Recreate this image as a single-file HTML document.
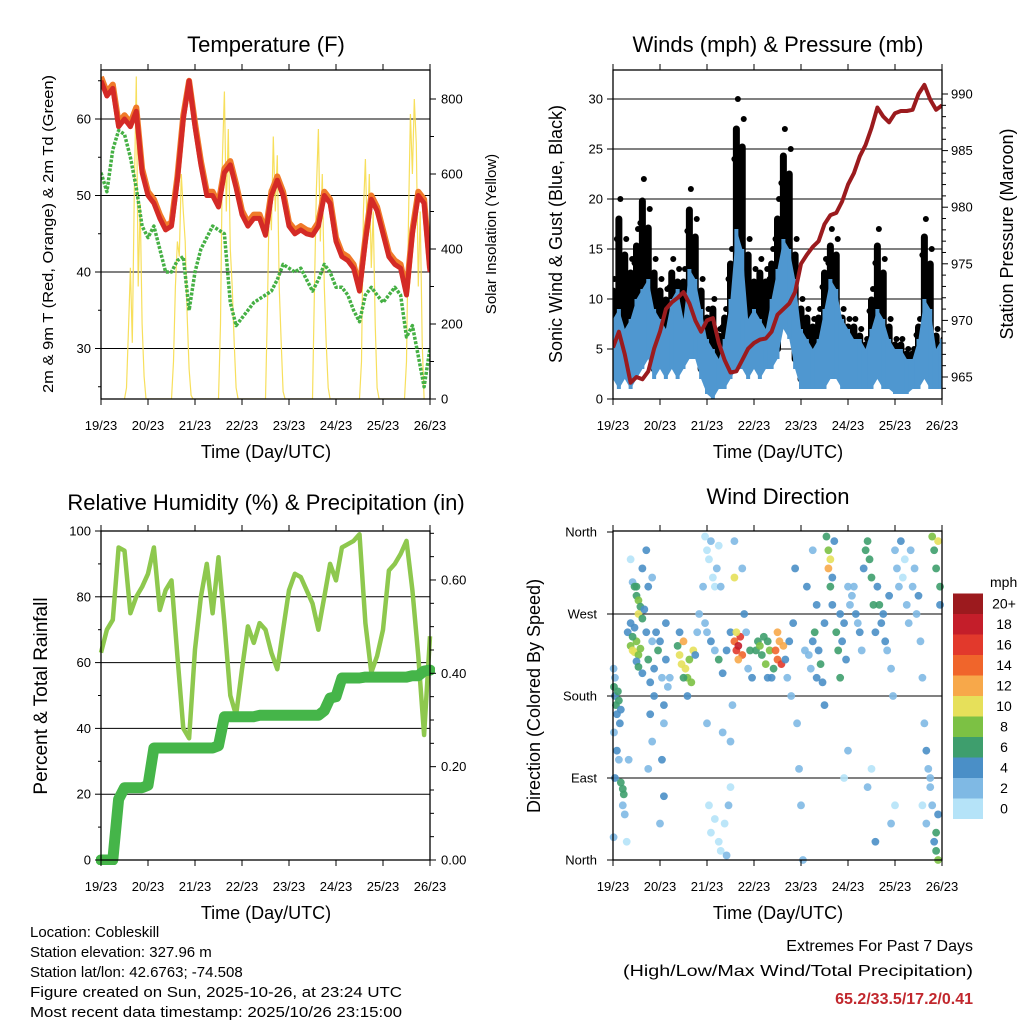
<!DOCTYPE html>
<html><head><meta charset="utf-8"><title>Cobleskill station 7-day summary</title>
<style>
html,body{margin:0;padding:0;background:#fff;}
svg{display:block;font-family:"Liberation Sans",Arial,sans-serif;}
</style></head>
<body>
<svg id="fig" width="1024" height="1024" viewBox="0 0 1024 1024" xmlns="http://www.w3.org/2000/svg">
<text x="266" y="52" font-size="22" text-anchor="middle">Temperature (F)</text>
<text x="778" y="52" font-size="22" text-anchor="middle">Winds (mph) &amp; Pressure (mb)</text>
<text x="266" y="510" font-size="22" text-anchor="middle">Relative Humidity (%) &amp; Precipitation (in)</text>
<text x="778" y="504" font-size="22" text-anchor="middle">Wind Direction</text>

<text x="266" y="458" font-size="18" text-anchor="middle">Time (Day/UTC)</text>
<text x="778" y="458" font-size="18" text-anchor="middle">Time (Day/UTC)</text>
<text x="266" y="919" font-size="18" text-anchor="middle">Time (Day/UTC)</text>
<text x="778" y="919" font-size="18" text-anchor="middle">Time (Day/UTC)</text>

<text transform="translate(53,234) rotate(-90)" font-size="15" text-anchor="middle" textLength="318" lengthAdjust="spacingAndGlyphs">2m &amp; 9m T (Red, Orange) &amp; 2m Td (Green)</text>
<text transform="translate(496,234) rotate(-90)" font-size="15" text-anchor="middle">Solar Insolation (Yellow)</text>
<text transform="translate(562,234) rotate(-90)" font-size="18" text-anchor="middle">Sonic Wind &amp; Gust (Blue, Black)</text>
<text transform="translate(1013,234) rotate(-90)" font-size="18" text-anchor="middle">Station Pressure (Maroon)</text>
<text transform="translate(47,696) rotate(-90)" font-size="19" text-anchor="middle">Percent &amp; Total Rainfall</text>
<text transform="translate(540,696) rotate(-90)" font-size="18" text-anchor="middle">Direction (Colored By Speed)</text>

<g font-size="15">
<text x="30" y="937">Location: Cobleskill</text>
<text x="30" y="957">Station elevation: 327.96 m</text>
<text x="30" y="977">Station lat/lon: 42.6763; -74.508</text>
<text x="30" y="997" textLength="372" lengthAdjust="spacingAndGlyphs">Figure created on Sun, 2025-10-26, at 23:24 UTC</text>
<text x="30" y="1017" textLength="372" lengthAdjust="spacingAndGlyphs">Most recent data timestamp: 2025/10/26 23:15:00</text>
</g>
<text x="973" y="951" font-size="16" text-anchor="end">Extremes For Past 7 Days</text>
<text x="973" y="976" font-size="16" text-anchor="end" textLength="350" lengthAdjust="spacingAndGlyphs">(High/Low/Max Wind/Total Precipitation)</text>
<text x="973" y="1004" font-size="16" font-weight="bold" fill="#c1272d" text-anchor="end">65.2/33.5/17.2/0.41</text>
</svg>
<script>
// ---------- data (3-hourly, hour 0 = 19/23 UTC) ----------
const dayLabels = ["19/23","20/23","21/23","22/23","23/23","24/23","25/23","26/23"];
const tempRed = [65,63,64,59,60,59,61,53,50,49,47,45.5,46,52,60,65,59,54,50,50,48.5,53,54,51,47.5,46,47,47,44.8,50,52,50,46,45,45.5,45,44.8,46,50,49,44,42,41.5,40.5,37.5,44,49.5,48,45,42,41,40.5,37,45,50,49,40];
const tempOrange = [65.5,63.5,64.5,59.5,60.5,59.5,61.5,53.5,50.5,49.5,47.5,46,46.5,52.5,60.5,65,59.5,54.5,50.5,50.5,49,53.5,54.5,51.5,48,46.5,47.5,47.5,45.3,50.5,52.5,50.5,46.5,45.5,46,45.5,45.3,46.5,50.5,49.5,44.5,42.5,42,41,38,44.5,50,48.5,45.5,42.5,41.5,41,37.5,45.5,50.5,49.5,40.5];
const dewGreen = [53,50.5,56,58.5,58,55,51,46,44.5,46,43,40,40,41.5,42,35,40,43,44.5,46,45.5,45,36,33,34,35,36,36.5,37,37.5,39,41,40.5,40,40.5,39,37.5,39,41,40,38,38,37,35,33.5,37,38,37,36,37,38,37,31.5,33,29,25,30];
const solarHours = [12,13,14,15,16,17,18,19,20,21,22,23, 36,37,38,39,40,41,42,43,44,45,46,47, 60,61,62,63,64,65,66,67,68,69,70, 84,85,86,87,88,89,90,91,92,93,94, 108,109,110,111,112,113,114,115,116,117, 132,133,134,135,136,137,138,139,140,141,142, 155,156,157,158,159,160,161,162,163,164,165];
const solarVals = [0,30,180,350,150,550,860,300,520,200,60,0, 0,100,300,420,380,600,500,420,220,80,10,0, 0,200,640,820,500,720,400,300,150,30,0, 0,250,560,450,700,500,650,300,150,20,0, 0,300,560,720,420,600,300,150,30,0, 0,100,500,640,420,600,350,500,200,30,0, 0,100,480,760,600,800,680,300,500,150,0];
const windHi = [8,9,7,8,10,11,12,9,8,7,10,11,8,13,12,9,6,5,4,6,10,17,15,8,9,8,7,10,13,16,15,12,7,6,5,6,9,12,11,8,7,6,6,5,7,9,8,6,5,5,4,4,6,10,9,5,6];
const windLo = [2,1,2,1,2,3,4,2,3,2,3,2,3,4,4,2,0.5,0,1,1,2,3,3,2,3,2,3,3,4,7,6,3,1,1,1,1,1,2,2,1,1,1,1,1,1,2,1,1,0.5,0.5,0.5,1,1,2,1,1,1];
const gustHi = [12,20,16,14,17,22,19,14,12,11,14,13,13,21,18,12,9,10,7,9,15,30,28,16,13,14,13,15,20,27,25,16,10,9,8,9,14,17,16,9,8,8,7,6,11,17,14,8,6,6,5,5,8,18,15,7,6];
const pressure = [967.6,969,967,964.5,965,964.8,965.5,967.5,969,971,971.6,972,972.5,971.5,970,969,970,970.2,968,966.5,965.4,965.5,966.5,967.5,968,968.3,968.4,969,970.5,971,971.5,972.5,975,975.8,976.5,977,978.5,979.3,979.5,980.5,982,983,984.5,985.5,987,988.8,988,987.5,988.3,988.5,988.5,988.6,990,990.8,989.5,988.6,989];
const rhVals = [63,70,73,95,94,75,80,83,87,95,76,82,85,62,40,37,64,80,90,75,92,72,50,44,58,71,66,72,70,63,58,70,82,87,86,82,78,70,80,90,85,95,96,97,99,72,57,62,70,88,90,93,97,82,62,38,68];
const precipVals = [0,0,0,0.13,0.155,0.155,0.155,0.155,0.16,0.24,0.24,0.24,0.24,0.24,0.24,0.24,0.24,0.24,0.24,0.24,0.245,0.307,0.307,0.307,0.307,0.307,0.307,0.31,0.31,0.31,0.31,0.31,0.31,0.31,0.31,0.31,0.31,0.31,0.32,0.347,0.35,0.39,0.39,0.39,0.39,0.392,0.392,0.392,0.392,0.392,0.392,0.392,0.392,0.395,0.395,0.405,0.407];
const dirHours = [0.5,1,1.5,2,2.5,3,3.5,4,1,0.3,0.5,2,3,1,4,5,5.5,5,6,7,8,0.3,7.5,
 9,10,11,12,13,10,14,12,11,9,13,15,
 9,10,11,12,13,14,12,13,15,15,17,16,17,18,19,20,21,19,20,18,21,18,20,22,23,
 24,25,26,27,28,25,26,27,29,26,24,
 33,34,35,36,37,38,39,40,41,42,34,36,38,43,44,46,
 47,48,49,50,51,52,53,54,55,47,48,50,52,54,56,58,60,49,50,52,54,55,57,59,60,58,48,56,60,61,62,
 62,63,64,65,66,64,63,62,67,68,70,71,69,66,
 73,74,75,76,77,78,79,80,83,84,85,86,87,84,82,81,79,
 88,89,90,91,92,93,94,95,96,97,98,100,101,102,103,104,105,106,99,102,104,107,108,108,
 109,110,110,111,111,112,113,112,114,115,116,117,116,118,119,120,121,120,118,
 122,123,124,125,126,127,128,129,130,131,132,133,134,135,136,137,138,139,140,141,142,143,134,130,132,142,144,
 144,145,146,147,148,149,150,151,152,153,154,155,156,157,158,159,160,161,162,163,164,165,166,165,166,163,164,165,166,167,167,162,160,158];
const dirDeg = [190,180,170,160,185,175,150,165,200,210,140,120,110,90,85,78,72,60,50,20,110,25,250,
 235,230,228,240,225,245,232,218,255,260,212,205,
 330,305,300,290,285,278,300,270,265,320,340,275,250,220,195,240,210,160,130,100,180,300,310,250,230,
 240,200,170,220,190,110,150,260,200,70,40,
 235,225,215,240,210,200,220,195,230,225,250,200,180,250,270,300,
 355,340,330,350,310,300,320,345,300,260,250,240,230,220,205,230,250,60,30,45,20,10,40,60,80,5,150,140,130,170,350,
 240,230,235,245,225,220,250,310,270,250,230,200,210,320,
 230,240,235,225,245,215,240,230,230,220,240,215,235,250,210,200,200,
 220,200,240,180,260,320,150,100,60,0,230,225,210,240,250,200,230,215,300,340,280,195,170,260,
 355,340,320,330,300,280,350,310,250,230,270,240,200,260,220,300,280,120,90,
 290,300,270,260,250,230,320,340,350,330,310,280,250,300,280,260,270,240,230,290,210,180,20,80,100,40,60,
 340,320,300,350,310,330,280,260,340,300,320,270,290,240,200,150,120,100,80,60,20,10,0,30,50,355,340,320,350,300,280,90,40,60];
const dirSpeed = [6,5,6,4,7,6,4,5,3,2,2,4,2,4,6,6,6,3,2,1,2,3,4,
 8,10,10,9,9,6,8,5,4,4,6,4,
 1,2,6,7,8,7,7,10,6,5,4,4,4,6,4,3,4,4,3,2,4,4,3,5,6,
 4,3,5,4,3,4,3,4,2,4,2,
 6,11,11,12,10,9,9,8,10,4,4,6,5,3,2,2,
 0,1,1,2,0,1,2,1,2,2,3,4,3,6,4,4,4,0,1,1,0,1,1,2,1,2,2,2,2,3,3,
 14,16,18,17,14,12,11,10,4,3,6,4,2,2,
 6,7,8,7,6,8,7,9,14,15,13,17,12,12,6,4,5,
 4,3,4,3,4,4,3,2,2,3,2,3,2,4,6,4,5,6,4,3,4,4,4,5,
 6,8,12,10,6,4,4,4,6,7,5,4,6,4,4,3,3,2,1,
 3,2,4,3,4,2,4,6,7,7,6,7,5,5,6,4,5,4,3,4,3,2,5,2,1,2,1,
 3,2,2,4,1,1,2,3,2,2,3,2,4,2,2,2,4,3,3,3,5,7,8,6,4,8,6,7,10,6,4,2,3,1];
const speedColors = ["#b5e3f8","#7fb9e4","#4a8fc7","#3e9e6d","#7cc144","#e6e05a","#f7a84a","#f0652b","#e2392c","#c41e2a","#9c1a1e"];
const speedLabels = ["0","2","4","6","8","10","12","14","16","18","20+"];
const dirLabels = ["North","East","South","West","North"];

// ---------- helpers ----------
const NS = "http://www.w3.org/2000/svg";
const svg = document.getElementById("fig");
function mk(tag, attrs, parent) {
  const e = document.createElementNS(NS, tag);
  for (const k in attrs) e.setAttribute(k, attrs[k]);
  (parent || svg).appendChild(e);
  return e;
}
const H_STEP = 3;
function hourAt(i) { return i * H_STEP; }
function makeX(x0) { return h => x0 + h * 329 / 168; }

function drawGrid(x0, name, leftY, grid) {
  const g = mk("g", {});
  
  
  grid.forEach(v => {
    const l = mk("line", {x1: x0, x2: x0 + 329, y1: leftY(v), y2: leftY(v), stroke: "#000", "stroke-width": 1}, g);
    
    
  });
}
function drawFrame(x0, y0, name, leftTicks, leftY, leftFmt, rightTicks, rightY, rightFmt, minorL, minorR, rightX) {
  const g = mk("g", {});
  
  
  const x = makeX(x0);
  const r = mk("rect", {x: x0, y: y0, width: 329, height: 329, fill: "none", stroke: "#000", "stroke-width": 1.3}, g);
  
  
  dayLabels.forEach((lab, i) => {
    const xx = x(i * 24);
    mk("line", {x1: xx, x2: xx, y1: y0 + 329, y2: y0 + 335, stroke: "#000", "stroke-width": 1}, g);
    mk("line", {x1: xx, x2: xx, y1: y0, y2: y0 - 6, stroke: "#000", "stroke-width": 1}, g);
    const t = mk("text", {x: xx, y: y0 + 360, "font-size": 13, "text-anchor": "middle"}, g);
    
    
    t.textContent = lab;
  });
  leftTicks.forEach(v => {
    const yy = leftY(v);
    mk("line", {x1: x0 - 6, x2: x0, y1: yy, y2: yy, stroke: "#000", "stroke-width": 1}, g);
    const t = mk("text", {x: x0 - 10, y: yy + 4.5, "font-size": 13, "text-anchor": "end"}, g);
    
    
    t.textContent = leftFmt(v);
  });
  (minorL || []).forEach(v => {
    const yy = leftY(v);
    mk("line", {x1: x0 - 3, x2: x0, y1: yy, y2: yy, stroke: "#000", "stroke-width": 1}, g);
  });
  (rightTicks || []).forEach(v => {
    const yy = rightY(v);
    mk("line", {x1: x0 + 329, x2: x0 + 335, y1: yy, y2: yy, stroke: "#000", "stroke-width": 1}, g);
    const t = mk("text", {x: rightX || (x0 + 343), y: yy + 4.5, "font-size": 13, "text-anchor": "start"}, g);
    
    
    t.textContent = rightFmt(v);
  });
  (minorR || []).forEach(v => {
    const yy = rightY(v);
    mk("line", {x1: x0 + 329, x2: x0 + 333, y1: yy, y2: yy, stroke: "#000", "stroke-width": 1}, g);
  });
}
function pathFrom(vals, x, y) {
  return vals.map((v, i) => (i ? "L" : "M") + x(hourAt(i)).toFixed(1) + "," + y(v).toFixed(1)).join("");
}

// ---------- Panel 1: temperature ----------
(function () {
  const x = makeX(101);
  const ty = v => 119 + (60 - v) * 7.65;
  const sy = v => 399 - v * 0.375;
  drawGrid(101, "temperature", ty, [30, 40, 50, 60]);
  const clip = mk("clipPath", {id: "c1"});
  mk("rect", {x: 101, y: 70, width: 329, height: 329}, clip);
  const g = mk("g", {"clip-path": "url(#c1)"});
  
  
  const sp = mk("path", {d: solarHours.map((h, i) => (i ? "L" : "M") + x(h).toFixed(1) + "," + sy(solarVals[i]).toFixed(1)).join(""), fill: "none", stroke: "#f6dc4a", "stroke-width": 1.2, opacity: 0.9}, g);
  
  
  const og = mk("path", {d: pathFrom(tempOrange, x, ty), fill: "none", stroke: "#f07a2a", "stroke-width": 6, "stroke-linejoin": "round"}, g);
  
  
  const rd = mk("path", {d: pathFrom(tempRed, x, ty), fill: "none", stroke: "#d42a26", "stroke-width": 5, "stroke-linejoin": "round"}, g);
  
  
  const gr = mk("path", {d: pathFrom(dewGreen, x, ty), fill: "none", stroke: "#45b044", "stroke-width": 3.5, "stroke-dasharray": "3 1.5", "stroke-linejoin": "round"}, g);
  
  
  drawFrame(101, 70, "temperature", [30, 40, 50, 60], ty, v => String(v), [0, 200, 400, 600, 800], sy, v => String(v), [25, 35, 45, 55, 65], [100, 300, 500, 700], 441);
})();

// ---------- Panel 2: winds & pressure ----------
(function () {
  const x = makeX(613);
  const wy = v => 399 - v * 10;
  const py = p => 377 - (p - 965) * 11.32;
  drawGrid(613, "winds", wy, [5, 10, 15, 20, 25, 30]);
  const clip = mk("clipPath", {id: "c2"});
  mk("rect", {x: 613, y: 70, width: 329, height: 329}, clip);
  const g = mk("g", {"clip-path": "url(#c2)"});
  
  
  gustHi.forEach((v, i) => {
    const xx = x(hourAt(i));
    const l = mk("line", {x1: xx, x2: xx, y1: wy(windLo[i] + 1), y2: wy(v * 0.9), stroke: "#000", "stroke-width": 7, "stroke-linecap": "round"}, g);
    
    
    const c = mk("circle", {cx: xx + 1.5, cy: wy(v), r: 3, fill: "#000"}, g);
    
    
    const c2 = mk("circle", {cx: xx - 2, cy: wy(v * 0.8), r: 3, fill: "#000"}, g);
    
    
  });
  const top = windHi.map((v, i) => x(hourAt(i)).toFixed(1) + "," + wy(v).toFixed(1));
  const bot = windLo.map((v, i) => x(hourAt(i)).toFixed(1) + "," + wy(v).toFixed(1)).reverse();
  const area = mk("polygon", {points: top.concat(bot).join(" "), fill: "#4f97d0"}, g);
  
  
  windHi.forEach((v, i) => {
    const xx = x(hourAt(i));
    const l = mk("line", {x1: xx, x2: xx, y1: wy(windLo[i]), y2: wy(v), stroke: "#4f97d0", "stroke-width": 4}, g);
    
    
  });
  const p = mk("path", {d: pathFrom(pressure, x, py), fill: "none", stroke: "#9b1b1e", "stroke-width": 4, "stroke-linejoin": "round"}, g);
  
  
  drawFrame(613, 70, "winds", [0, 5, 10, 15, 20, 25, 30], wy, v => String(v), [965, 970, 975, 980, 985, 990], py, v => String(v), [], [964,966,967,968,969,971,972,973,974,976,977,978,979,981,982,983,984,986,987,988,989], 951);
})();

// ---------- Panel 3: humidity & precipitation ----------
(function () {
  const x = makeX(101);
  const ry = v => 860 - v * 3.29;
  const pry = p => 860 - p * 466.7;
  drawGrid(101, "humidity", ry, [20, 40, 60, 80]);
  const clip = mk("clipPath", {id: "c3"});
  mk("rect", {x: 96, y: 526, width: 339, height: 339}, clip);
  const g = mk("g", {"clip-path": "url(#c3)"});
  
  
  const rh = mk("path", {d: pathFrom(rhVals, x, ry), fill: "none", stroke: "#8ec84e", "stroke-width": 4.5, "stroke-linejoin": "round"}, g);
  
  
  const pr = mk("path", {d: pathFrom(precipVals, x, pry), fill: "none", stroke: "#45b549", "stroke-width": 11, "stroke-linejoin": "round", "stroke-linecap": "round"}, g);
  
  
  drawFrame(101, 531, "humidity", [0, 20, 40, 60, 80, 100], ry, v => String(v), [0, 0.2, 0.4, 0.6], pry, v => v.toFixed(2), [10, 30, 50, 70, 90], [0.05,0.1,0.15,0.25,0.3,0.35,0.45,0.5,0.55,0.65,0.7], 441);
})();

// ---------- Panel 4: wind direction ----------
(function () {
  const x = makeX(613);
  const dy = d => 860 - d * 328 / 360;
  drawGrid(613, "direction", dy, [90, 180, 270]);
  const clip = mk("clipPath", {id: "c4"});
  mk("rect", {x: 609, y: 527, width: 337, height: 337}, clip);
  const g = mk("g", {"clip-path": "url(#c4)"});
  
  
  dirHours.forEach((h, i) => {
    const idx = Math.max(0, Math.min(10, Math.floor(dirSpeed[i] / 2)));
    const c = mk("circle", {cx: x(h), cy: dy(dirDeg[i]), r: 3.9, fill: speedColors[idx], opacity: 0.9}, g);
    
    
  });
  drawFrame(613, 531, "direction", [], dy, null, [], null, null, [], [], 0);
  const degs = [0, 90, 180, 270, 360];
  degs.forEach((d, i) => {
    const yy = dy(d);
    mk("line", {x1: 607, x2: 613, y1: yy, y2: yy, stroke: "#000", "stroke-width": 1});
    const t = mk("text", {x: 597, y: yy + 4.5, "font-size": 13, "text-anchor": "end"});
    
    
    t.textContent = dirLabels[i];
  });
  // colorbar
  const cb = mk("g", {});
  
  
  const t0 = mk("text", {x: 990, y: 587, "font-size": 14}, cb);
  
  
  t0.textContent = "mph";
  speedColors.forEach((col, i) => {
    const yy = 819 - (i + 1) * 20.5;
    const r = mk("rect", {x: 953, y: yy, width: 30, height: 20.5, fill: col}, cb);
    
    
    const t = mk("text", {x: 1004, y: yy + 15, "font-size": 14, "text-anchor": "middle"}, cb);
    
    
    t.textContent = speedLabels[i];
  });
})();
</script>
</body></html>
